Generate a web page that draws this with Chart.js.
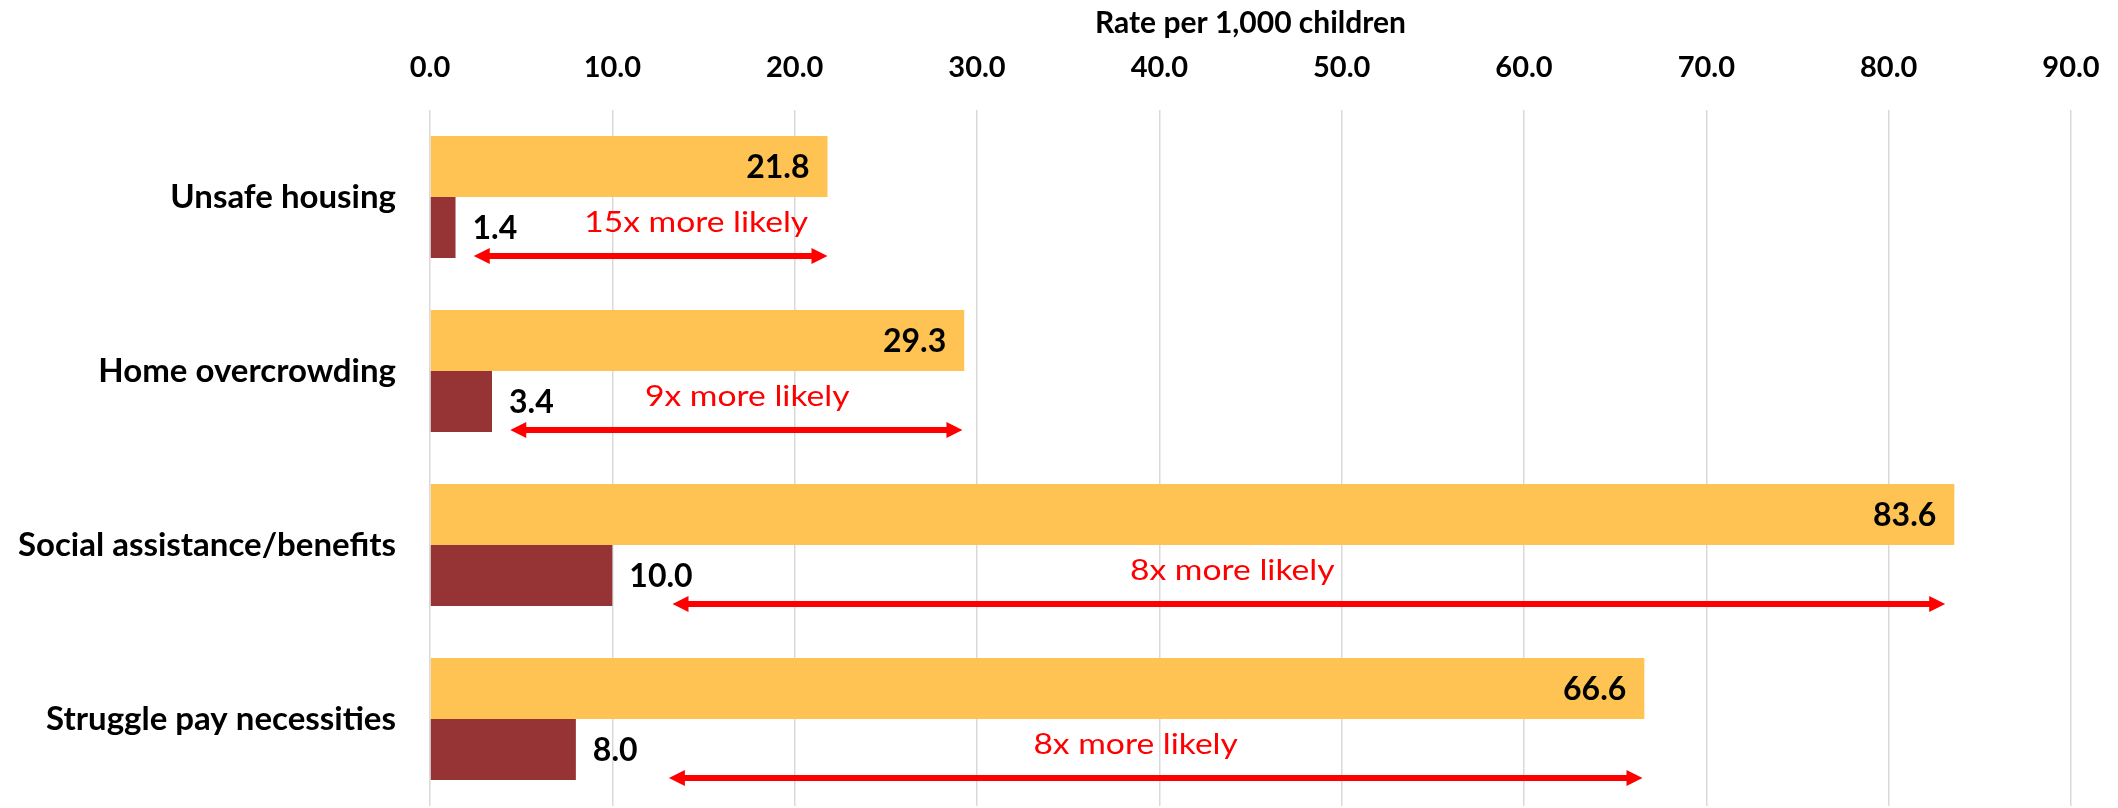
<!DOCTYPE html>
<html>
<head>
<meta charset="utf-8">
<script src="https://cdn.jsdelivr.net/npm/chart.js@4.4.1/dist/chart.umd.min.js"></script>
<style>
html,body{margin:0;padding:0;background:#fff;}
#wrap{width:2118px;height:808px;position:relative;}
</style>
</head>
<body>
<div id="wrap"><canvas id="c" width="2118" height="808"></canvas></div>
<script>
// ---- data ----
const categories = ['Unsafe housing', 'Home overcrowding', 'Social assistance/benefits', 'Struggle pay necessities'];
const seriesHigh = [21.8, 29.3, 83.6, 66.6];
const seriesLow = [1.4, 3.4, 10.0, 8.0];
const likelihoodText = ['15x more likely', '9x more likely', '8x more likely', '8x more likely'];
const arrowFrom = [2.4, 4.4, 13.3, 13.1];
const arrowTo = [21.8, 29.2, 83.1, 66.5];
const likelihoodTextX = [14.6, 17.4, 44.0, 38.7];
const xTicks = [0, 10, 20, 30, 40, 50, 60, 70, 80, 90];
const axisTitle = 'Rate per 1,000 children';

const FONT = 'Lato, "Open Sans", sans-serif';

const valueLabels = {
  id: 'valueLabels',
  afterDatasetsDraw(chart) {
    const ctx = chart.ctx;
    ctx.save();
    ctx.font = 'bold 32px ' + FONT;
    ctx.fillStyle = '#000';
    ctx.textBaseline = 'middle';
    chart.getDatasetMeta(0).data.forEach((bar, i) => {
      ctx.textAlign = 'right';
      ctx.fillText(seriesHigh[i].toFixed(1), bar.x - 18, bar.y + 1);
    });
    chart.getDatasetMeta(1).data.forEach((bar, i) => {
      ctx.textAlign = 'left';
      ctx.fillText(seriesLow[i].toFixed(1), bar.x + 17, bar.y + 1);
    });
    ctx.restore();
  }
};

const arrows = {
  id: 'arrows',
  afterDatasetsDraw(chart) {
    const ctx = chart.ctx;
    const xs = chart.scales.x;
    const meta = chart.getDatasetMeta(1);
    ctx.save();
    meta.data.forEach((bar, i) => {
      const y = bar.y + bar.height / 2 - 2;
      const x1 = xs.getPixelForValue(arrowFrom[i]);
      const x2 = xs.getPixelForValue(arrowTo[i]);
      const hl = 16, hh = 8;
      ctx.strokeStyle = '#FF0000';
      ctx.fillStyle = '#FF0000';
      ctx.lineWidth = 6;
      ctx.beginPath();
      ctx.moveTo(x1 + hl - 2, y);
      ctx.lineTo(x2 - hl + 2, y);
      ctx.stroke();
      ctx.beginPath();
      ctx.moveTo(x1, y); ctx.lineTo(x1 + hl, y - hh); ctx.lineTo(x1 + hl, y + hh); ctx.closePath(); ctx.fill();
      ctx.beginPath();
      ctx.moveTo(x2, y); ctx.lineTo(x2 - hl, y - hh); ctx.lineTo(x2 - hl, y + hh); ctx.closePath(); ctx.fill();
      // text
      const tx = xs.getPixelForValue(likelihoodTextX[i]);
      const ty = bar.y - 4;
      ctx.font = '28px ' + FONT;
      ctx.textAlign = 'center';
      ctx.textBaseline = 'middle';
      ctx.save();
      ctx.translate(tx, ty);
      ctx.scale(1.2, 1);
      ctx.fillText(likelihoodText[i], 0, 0);
      ctx.restore();
    });
    ctx.restore();
  }
};

new Chart(document.getElementById('c'), {
  type: 'bar',
  data: {
    labels: categories,
    datasets: [
      { data: seriesHigh, backgroundColor: '#FEC353', borderWidth: 0, categoryPercentage: 0.70, barPercentage: 1.0 },
      { data: seriesLow, backgroundColor: '#953335', borderWidth: 0, categoryPercentage: 0.70, barPercentage: 1.0 }
    ]
  },
  options: {
    indexAxis: 'y',
    responsive: false,
    animation: false,
    devicePixelRatio: 1,
    layout: { padding: { left: 0, right: 47, top: 0, bottom: 2 } },
    plugins: { legend: { display: false }, tooltip: { enabled: false } },
    scales: {
      x: {
        position: 'top',
        min: 0, max: 90,
        afterBuildTicks(scale) { scale.ticks = xTicks.map(v => ({ value: v })); },
        afterFit(scale) { scale.height = 110; scale.paddingLeft = 0; scale.paddingRight = 0; },
        ticks: {
          callback: v => Number(v).toFixed(1),
          font: { family: FONT, size: 29, weight: 'bold' },
          color: '#000',
          padding: 25,
          maxRotation: 0
        },
        grid: { color: '#D9D9D9', lineWidth: 1.5, drawTicks: false },
        border: { display: false },
        title: {
          display: true, text: axisTitle,
          font: { family: FONT, size: 30, weight: 'bold' },
          color: '#000',
          padding: { top: 5, bottom: 0 }
        }
      },
      y: {
        afterFit(scale) { scale.width = 430; scale.paddingTop = 0; scale.paddingBottom = 0; },
        ticks: {
          font: { family: FONT, size: 33, weight: 'bold' },
          color: '#000',
          padding: 34
        },
        grid: { display: false, drawTicks: false },
        border: { display: false }
      }
    }
  },
  plugins: [valueLabels, arrows]
});
</script>
</body>
</html>
